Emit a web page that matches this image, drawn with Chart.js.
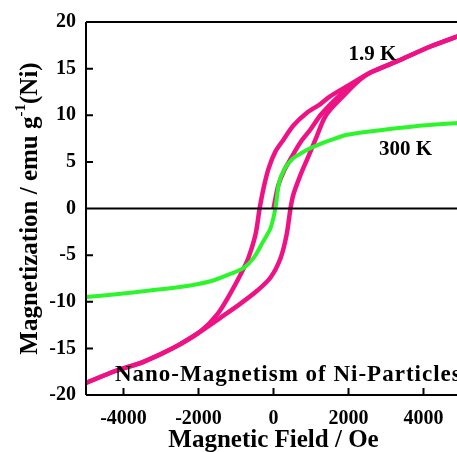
<!DOCTYPE html>
<html>
<head>
<meta charset="utf-8">
<script src="https://cdn.jsdelivr.net/npm/chart.js@4"></script>
<style>
  html, body { margin: 0; padding: 0; background: #fff; overflow: hidden; }
  #wrap { width: 462px; height: 452px; position: relative; }
</style>
</head>
<body>
<div id="wrap"><canvas id="loopChart"></canvas></div>
<script>
// --- Data ---
// 1.9 K, branch coming down from +5000 Oe
const fieldDown = [5000, 4200, 3300, 2600, 2000, 1500, 1250, 900, 530, 270, 50, -130, -270, -370, -480, -670, -830, -1150, -1490, -1950, -2500, -3000, -3500, -4200, -5000];
const magDown   = [18.6, 17.4, 15.8, 14.6, 13.2, 12.0, 11.2, 10.3, 8.9, 7.4, 6.1, 4.3, 2.1, 0, -2.8, -5.3, -6.7, -9.1, -11.3, -13.2, -14.6, -15.6, -16.5, -17.4, -18.7];
// 1.9 K, branch going up from -5000 Oe
const fieldUp = [-5000, -4200, -3500, -2600, -1950, -1410, -880, -430, -80, 190, 350, 453, 530, 720, 900, 1120, 1400, 1870, 2300, 2600, 3300, 4200, 5000];
const magUp   = [-18.7, -17.4, -16.5, -14.8, -13.2, -11.7, -10.2, -8.8, -7.4, -5.3, -2.8, 0, 1.5, 3.6, 5.3, 7.4, 10.0, 12.1, 13.8, 14.6, 15.8, 17.4, 18.6];
// 1.9 K, first magnetisation curve from the origin
const fieldVirgin = [0, 130, 300, 453, 720, 990, 1250, 1500, 1900, 2300];
const magVirgin   = [0, 2.5, 4.2, 5.3, 7.1, 8.5, 10.0, 11.1, 12.6, 13.8];
// 300 K
const field300 = [-5000, -4200, -3300, -2450, -1680, -1150, -800, -530, -270, -80, 50, 150, 300, 500, 640, 900, 1170, 1500, 1970, 2850, 3730, 5000];
const mag300   = [-9.5, -9.2, -8.8, -8.4, -7.8, -7.0, -6.4, -5.3, -3.5, -2.1, 0, 2.8, 4.3, 5.3, 5.7, 6.3, 6.8, 7.3, 7.9, 8.4, 8.8, 9.2];

const fieldTicks = [-4000, -2000, 0, 2000, 4000];
const magTicks = [-20, -15, -10, -5, 0, 5, 10, 15, 20];

const PINK = '#ee1284';
const GREEN = '#2cf52c';
const FONT = "'Liberation Serif', 'Times New Roman', serif";

function pts(xs, ys) {
    return xs.map((x, i) => ({ x: x, y: ys[i] }));
}

// texts written inside the plot, placed in data units
const notes = [
    { text: '1.9 K', x: 2640, y: 16.5, size: 21, spacing: 0, align: 'center' },
    { text: '300 K', x: 3520, y: 6.3, size: 21, spacing: 0, align: 'center' },
    { text: 'Nano-Magnetism of Ni-Particles', x: -4230, y: -17.9, size: 23, spacing: 1, align: 'left' }
];

// frame, inward ticks, zero line, labels
const decorPlugin = {
    id: 'decor',
    afterDatasetsDraw(chart) {
        const ctx = chart.ctx;
        const a = chart.chartArea;
        const xs = chart.scales.x, ys = chart.scales.y;
        ctx.save();
        ctx.strokeStyle = '#000';
        ctx.lineWidth = 2;
        ctx.beginPath();
        ctx.moveTo(a.left, a.top); ctx.lineTo(chart.width, a.top);
        ctx.moveTo(a.left, a.top); ctx.lineTo(a.left, a.bottom);
        ctx.moveTo(a.left, a.bottom); ctx.lineTo(chart.width, a.bottom);
        const y0 = ys.getPixelForValue(0);
        ctx.moveTo(a.left, y0); ctx.lineTo(chart.width, y0);
        magTicks.forEach(v => {
            const p = ys.getPixelForValue(v);
            ctx.moveTo(a.left, p); ctx.lineTo(a.left + 7, p);
        });
        fieldTicks.forEach(v => {
            const p = xs.getPixelForValue(v);
            ctx.moveTo(p, a.bottom); ctx.lineTo(p, a.bottom - 7);
        });
        ctx.stroke();

        ctx.fillStyle = '#000';
        notes.forEach(n => {
            ctx.font = 'bold ' + n.size + 'px ' + FONT;
            ctx.letterSpacing = n.spacing + 'px';
            ctx.textAlign = n.align;
            ctx.textBaseline = 'middle';
            ctx.fillText(n.text, xs.getPixelForValue(n.x), ys.getPixelForValue(n.y));
        });
        ctx.letterSpacing = '0px';

        // x title
        ctx.font = 'bold 25px ' + FONT;
        ctx.textAlign = 'center';
        ctx.textBaseline = 'middle';
        ctx.fillText('Magnetic Field / Oe', (a.left + a.right) / 2, 441);

        // y title with superscript
        ctx.translate(31, (a.top + a.bottom) / 2);
        ctx.rotate(-Math.PI / 2);
        const big = 'bold 25px ' + FONT, small = 'bold 15px ' + FONT;
        const parts = [
            { t: 'Magnetization / emu g', f: big, dy: 0 },
            { t: '-1', f: small, dy: -10 },
            { t: '(Ni)', f: big, dy: 0 }
        ];
        let total = 0;
        parts.forEach(p => { ctx.font = p.f; p.w = ctx.measureText(p.t).width; total += p.w; });
        let x = -total / 2;
        ctx.textAlign = 'left';
        parts.forEach(p => {
            ctx.font = p.f;
            ctx.fillText(p.t, x, p.dy);
            x += p.w;
        });
        ctx.restore();
    }
};

const line = (data, color, width) => ({
    data: data,
    showLine: true,
    borderColor: color,
    backgroundColor: color,
    borderWidth: width,
    pointRadius: 0,
    tension: 0.3,
    fill: false
});

new Chart(document.getElementById('loopChart').getContext('2d'), {
    type: 'scatter',
    data: {
        datasets: [
            line(pts(field300, mag300), GREEN, 4),
            line(pts(fieldDown, magDown), PINK, 4.5),
            line(pts(fieldUp, magUp), PINK, 4.5),
            line(pts(fieldVirgin, magVirgin), PINK, 4.5)
        ]
    },
    options: {
        responsive: true,
        maintainAspectRatio: false,
        animation: false,
        layout: { padding: { top: 19, right: 1, left: 0, bottom: 0 } },
        plugins: { legend: { display: false }, tooltip: { enabled: false } },
        scales: {
            x: {
                type: 'linear',
                min: -5000, max: 5000,
                afterBuildTicks: s => { s.ticks = fieldTicks.map(v => ({ value: v })); },
                afterFit: s => { s.height = 57; },
                grid: { display: false, drawTicks: false },
                border: { display: false },
                ticks: {
                    padding: 12,
                    color: '#000',
                    font: { family: FONT, size: 20, weight: 'bold' },
                    maxRotation: 0,
                    callback: v => String(v)
                }
            },
            y: {
                type: 'linear',
                min: -20, max: 20,
                afterBuildTicks: s => { s.ticks = magTicks.map(v => ({ value: v })); },
                afterFit: s => { s.width = 86; },
                grid: { display: false, drawTicks: false },
                border: { display: false },
                ticks: {
                    padding: 10,
                    color: '#000',
                    font: { family: FONT, size: 20, weight: 'bold' },
                    callback: v => String(v)
                }
            }
        }
    },
    plugins: [decorPlugin]
});
</script>
</body>
</html>
